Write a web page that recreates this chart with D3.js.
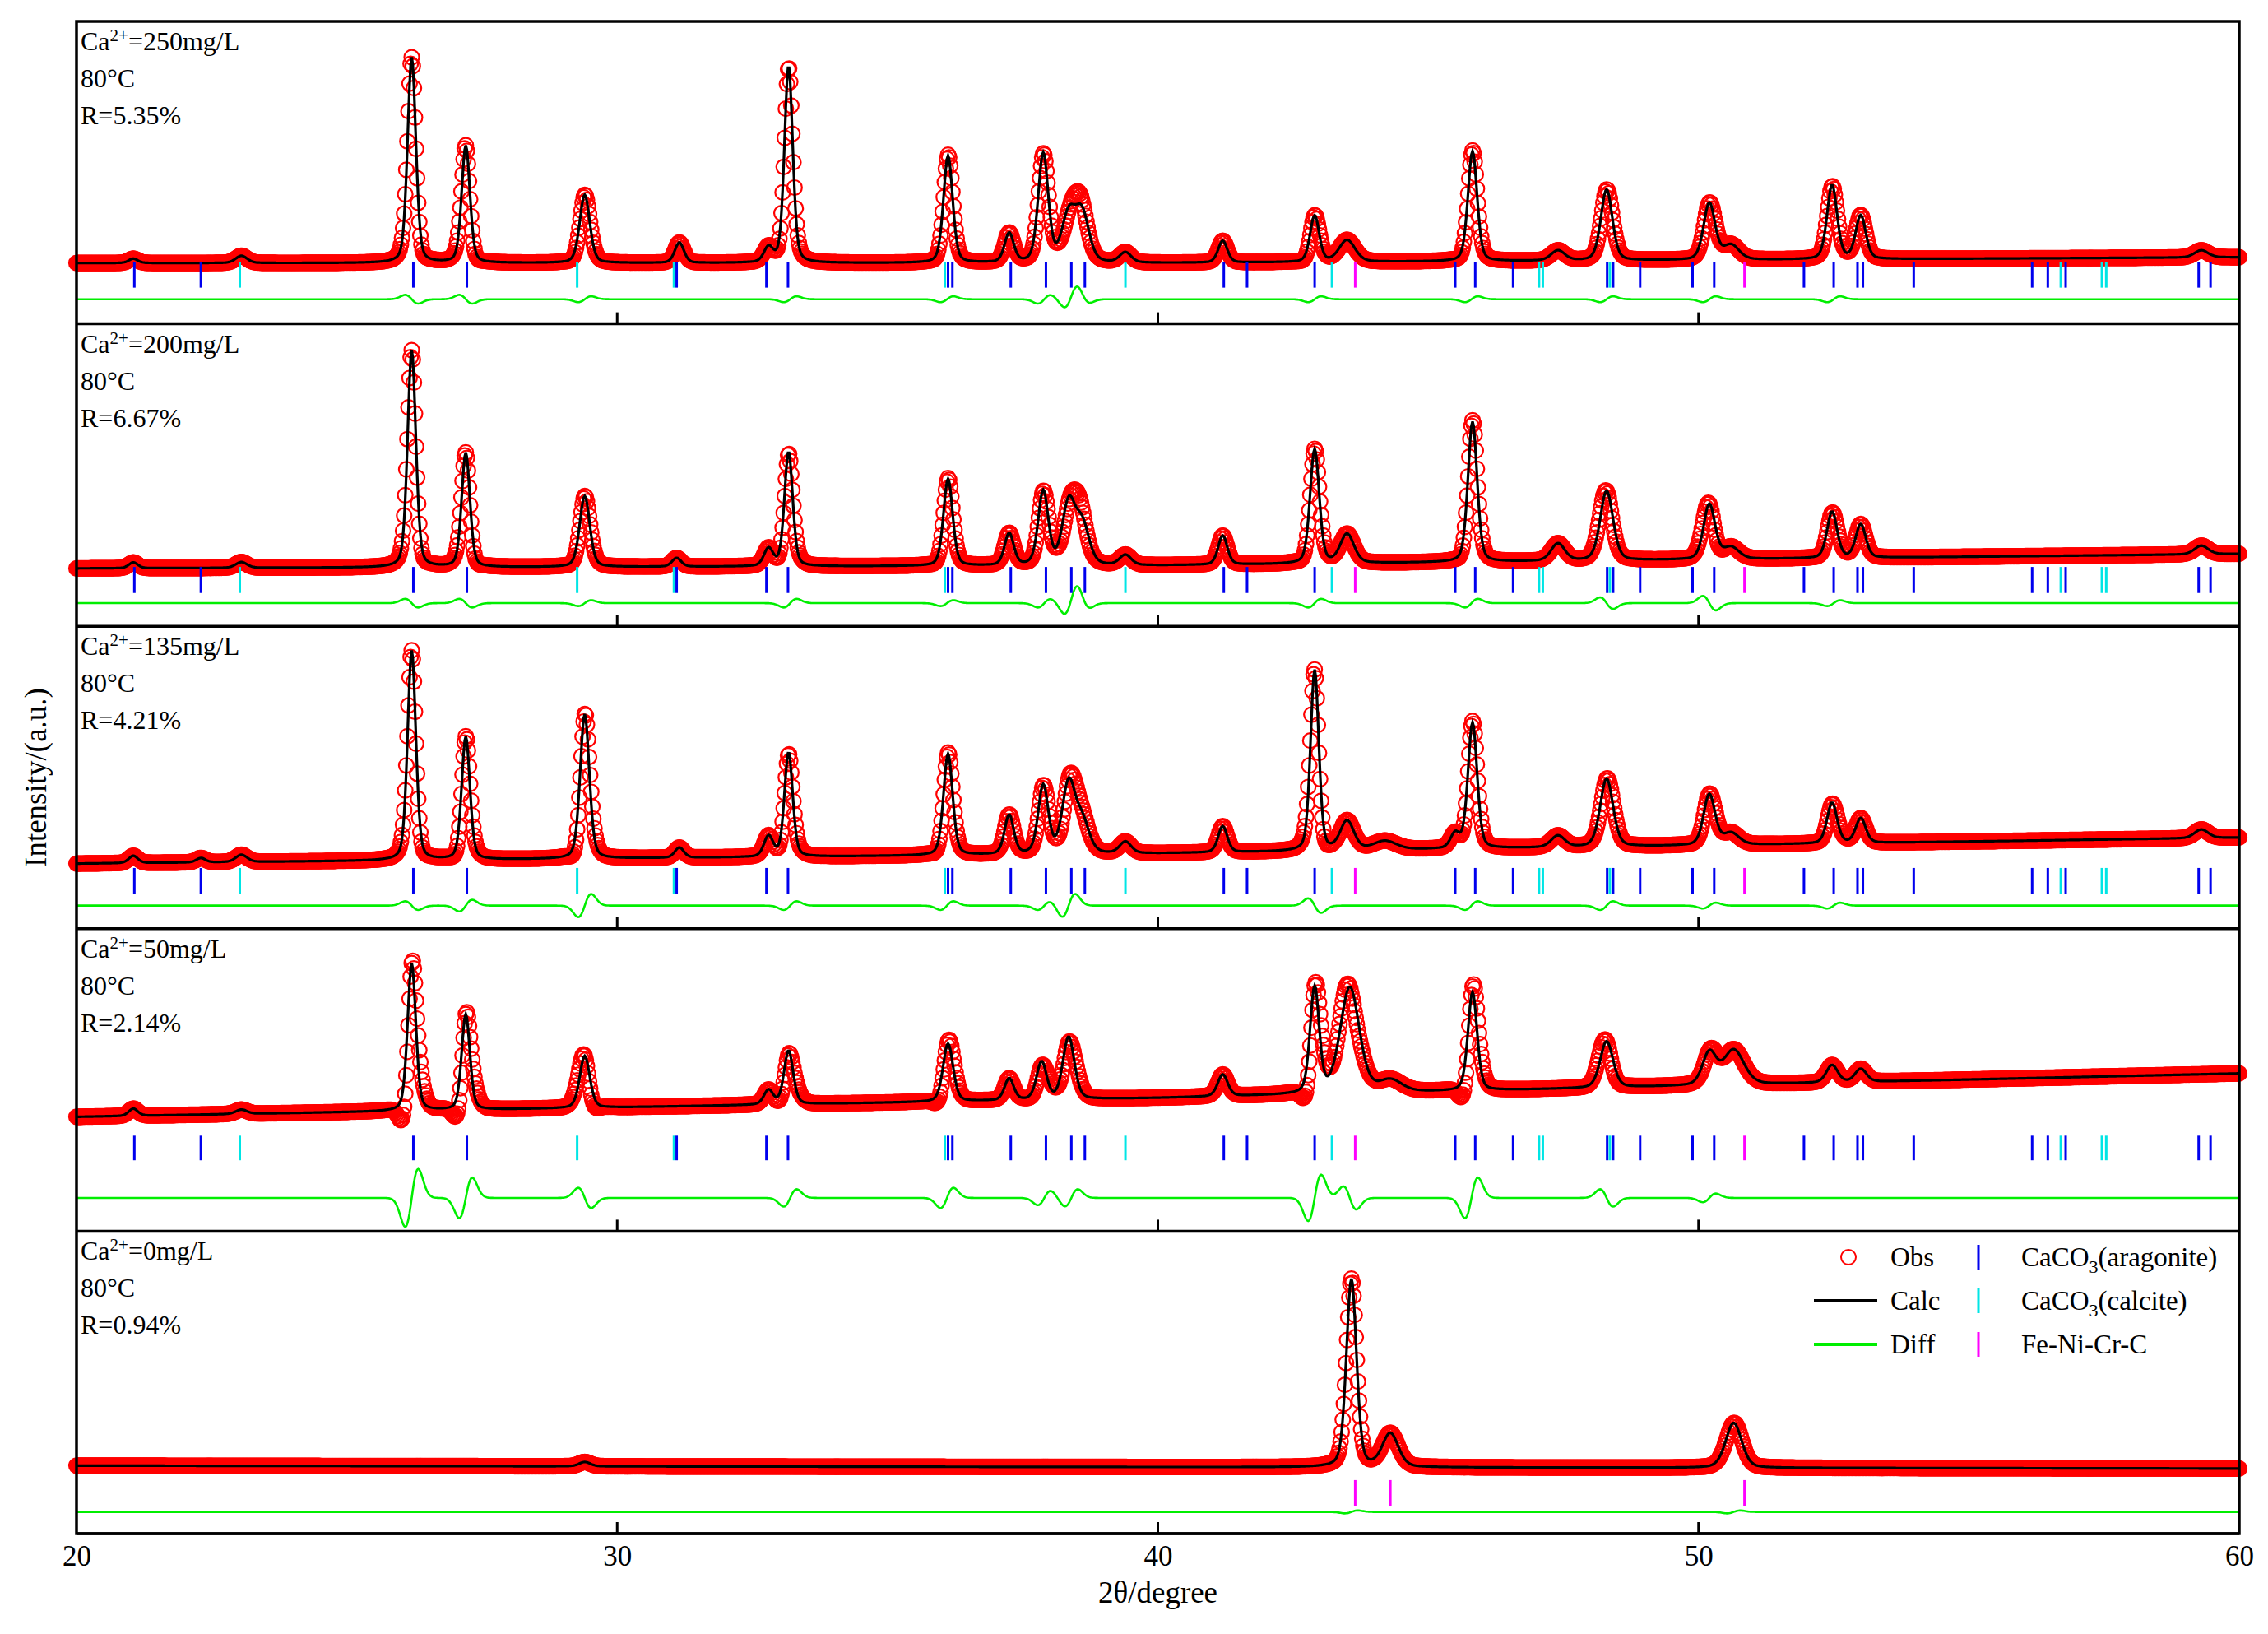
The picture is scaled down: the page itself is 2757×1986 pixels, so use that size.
<!DOCTYPE html>
<html><head><meta charset="utf-8">
<script src="https://cdn.jsdelivr.net/npm/d3@7"></script>
<style>body{margin:0;background:#fff}svg text{font-family:"Liberation Serif","DejaVu Serif",serif}</style>
</head><body><div id="c"></div>
<script>
// ---------- data ----------
const panelLabels = [
  ["Ca","2+","=250mg/L","80°C","R=5.35%"],
  ["Ca","2+","=200mg/L","80°C","R=6.67%"],
  ["Ca","2+","=135mg/L","80°C","R=4.21%"],
  ["Ca","2+","=50mg/L","80°C","R=2.14%"],
  ["Ca","2+","=0mg/L","80°C","R=0.94%"]
];
// peaks: [2θ, height, fwhm]
const peaks1 = [[21.05,3,0.2],[23.05,5,0.25],[26.2,142,0.18],[27.2,81,0.18],[29.4,47,0.22],[31.15,14,0.2],[32.8,10,0.2],[33.17,136,0.18],[36.12,74,0.2],[37.25,20,0.2],[37.88,75,0.22],[38.35,32,0.3],[38.6,33,0.3],[39.4,7,0.25],[41.2,15,0.2],[42.9,32,0.2],[43.5,15,0.35],[45.82,76,0.2],[47.4,7,0.3],[48.3,49,0.25],[50.2,39,0.25],[50.6,10,0.35],[52.47,51,0.22],[53.0,30,0.22],[59.3,5,0.3]];
const peaks2 = [[21.05,4,0.2],[23.05,4,0.25],[26.2,150,0.18],[27.2,79,0.18],[29.4,49,0.22],[31.1,6,0.2],[32.8,12,0.2],[33.17,79,0.18],[36.12,60,0.2],[37.25,22,0.2],[37.88,51,0.22],[38.35,42,0.28],[38.6,28,0.3],[39.4,7,0.25],[41.2,20,0.2],[42.9,79,0.2],[43.5,20,0.3],[45.82,97,0.2],[47.4,12,0.3],[48.3,48,0.28],[50.2,38,0.25],[50.6,8,0.35],[52.47,32,0.22],[53.0,23,0.22],[59.3,6,0.3]];
const peaks3 = [[21.05,5,0.2],[22.3,3,0.2],[23.05,5,0.25],[26.2,145,0.18],[27.2,85,0.18],[29.4,100,0.2],[31.15,7,0.2],[32.8,14,0.2],[33.17,72,0.18],[36.12,70,0.2],[37.25,27,0.2],[37.88,47,0.22],[38.35,48,0.28],[38.6,22,0.3],[39.4,8,0.25],[41.2,18,0.2],[42.9,125,0.18],[43.5,20,0.3],[44.2,6,0.5],[45.5,10,0.2],[45.82,87,0.2],[47.4,8,0.3],[48.3,47,0.28],[50.2,35,0.25],[50.6,8,0.35],[52.47,28,0.22],[53.0,17,0.22],[59.3,6,0.3]];
const peaks4 = [[21.05,5,0.2],[23.05,3,0.25],[26.2,102,0.18],[27.2,66,0.18],[29.4,36,0.22],[32.8,10,0.2],[33.17,37,0.2],[36.12,40,0.22],[37.25,15,0.2],[37.85,26,0.22],[38.35,43,0.25],[41.2,15,0.22],[42.9,73,0.2],[43.55,73,0.42],[44.3,8,0.5],[45.82,68,0.2],[48.3,32,0.28],[50.2,22,0.3],[50.65,24,0.45],[52.47,12,0.25],[53.0,9,0.25]];
const peaks5 = [[29.4,3,0.25],[43.58,130,0.22],[44.3,23,0.35],[50.65,31,0.35]];
// background knots: [2θ, level]
const bg1 = [[20,42],[40,42],[60,46]];
const bg2 = [[20,40],[40,42],[60,50]];
const bg3 = [[20,45],[40,52],[60,63]];
const bg4 = [[20,79],[40,92],[60,109]];
const bg5 = [[20,47],[60,45]];
// diff features: [2θ, amplitude]
const diff1 = [[26.2,-3],[27.2,-3],[29.4,2],[33.2,2],[36.1,2],[37.9,3],[38.4,6],[38.6,-3],[42.9,2],[45.8,2],[48.3,2],[50.2,2],[52.5,2]];
const diff2 = [[26.2,-3],[27.2,-3],[29.4,2],[33.2,3],[36.1,2],[37.9,3],[38.4,8],[38.6,-4],[42.9,3],[45.8,3],[48.3,-4],[50.2,-5],[52.5,2]];
const diff3 = [[26.2,-3],[27.2,4],[29.4,8],[33.2,3],[36.1,3],[37.9,3],[38.35,8],[42.9,-5],[45.8,3],[48.3,3],[50.2,2],[52.5,2]];
const diff4 = [[26.2,20],[27.2,14],[29.4,-7],[33.2,6],[36.1,7],[37.9,5],[38.4,6],[42.9,16],[43.55,-8],[45.8,14],[48.3,-6],[50.2,3]];
const diff5 = [[43.58,1],[50.65,1]];
// reflection positions
const aragonite = [21.07,22.3,26.23,27.22,31.1,32.76,33.16,36.12,36.2,37.28,37.93,38.4,38.65,41.22,41.65,42.9,45.5,45.87,46.57,48.31,48.42,48.92,49.89,50.29,51.95,52.5,52.94,53.04,53.98,56.17,56.46,56.79,59.25,59.47];
const calcite = [23.02,29.26,31.05,36.06,39.4,43.22,47.05,47.12,48.36,56.7,57.46,57.54];
const fenicrc = [43.65,50.85];
const fenicrc5 = [43.65,44.3,50.85];
const xTicks = [20,30,40,50,60];

// ---------- layout ----------
const W=2757,H=1986, L=93, R=2722, T=26, B=1864;
const nP=5, pH=(B-T)/nP;
const FF="Liberation Serif, DejaVu Serif, serif";
const tickRow=[[25,43],[23,41],[24,42],[49,66],[19,37]];
const diffLevel=[17,16,16,23,15];
const panels=[
 {peaks:peaks1,bg:bg1,diff:diff1,fe:fenicrc},
 {peaks:peaks2,bg:bg2,diff:diff2,fe:fenicrc},
 {peaks:peaks3,bg:bg3,diff:diff3,fe:fenicrc},
 {peaks:peaks4,bg:bg4,diff:diff4,fe:fenicrc},
 {peaks:peaks5,bg:bg5,diff:diff5,fe:fenicrc5,only:true}
];
const svg=d3.select("#c").append("svg").attr("width",W).attr("height",H).attr("font-family",FF);
const x=d3.scaleLinear().domain([20,60]).range([L,R]);
function pv(t,p,h,w){const d=(t-p)/(w/2);return h*(0.7*Math.exp(-Math.LN2*d*d)+0.3/(1+d*d));}
function bgAt(bg,t){for(let i=0;i<bg.length-1;i++){if(t<=bg[i+1][0]){const f=(t-bg[i][0])/(bg[i+1][0]-bg[i][0]);return bg[i][1]+f*(bg[i+1][1]-bg[i][1]);}}return bg[bg.length-1][1];}
function dAt(df,t){let s=0;for(const [p,a] of df){const d=(t-p)/0.12;s+=a*d*Math.exp(-d*d/2)*1.65;}return s;}
const steps=d3.range(20,60.0001,0.02);

panels.forEach((P,i)=>{
  const top=T+i*pH, bot=top+pH;
  const y=d3.scaleLinear().domain([0,209]).range([bot,top]);
  const g=svg.append("g");
  const calc=steps.map(t=>[t,bgAt(P.bg,t)+d3.sum(P.peaks,k=>pv(t,k[0],k[1],k[2]))]);
  const obs=calc.map(([t,v])=>[t,v+dAt(P.diff,t)]);
  g.append("g").selectAll("circle").data(obs).join("circle")
   .attr("cx",d=>x(d[0])).attr("cy",d=>y(d[1])).attr("r",9)
   .attr("fill","none").attr("stroke","#ff0000").attr("stroke-width",2.2);
  g.append("path").datum(calc).attr("fill","none").attr("stroke","#000").attr("stroke-width",3.2)
   .attr("d",d3.line().x(d=>x(d[0])).y(d=>y(d[1])));
  g.append("path").datum(steps.map(t=>[t,diffLevel[i]+dAt(P.diff,t)]))
   .attr("fill","none").attr("stroke","#00ee00").attr("stroke-width",2.6)
   .attr("d",d3.line().x(d=>x(d[0])).y(d=>y(d[1])));
  const marks=P.only?P.fe.map(v=>[v,"#ff00ff"]):
    aragonite.map(v=>[v,"#0000ee"]).concat(calcite.map(v=>[v,"#00e5e5"]),P.fe.map(v=>[v,"#ff00ff"]));
  g.append("g").selectAll("line").data(marks).join("line")
   .attr("x1",d=>x(d[0])).attr("x2",d=>x(d[0]))
   .attr("y1",y(tickRow[i][0])).attr("y2",y(tickRow[i][1]))
   .attr("stroke",d=>d[1]).attr("stroke-width",3);
  g.append("g").selectAll("line").data([30,40,50]).join("line")
   .attr("x1",d=>x(d)).attr("x2",d=>x(d)).attr("y1",bot).attr("y2",bot-14)
   .attr("stroke","#000").attr("stroke-width",3);
  const lb=panelLabels[i];
  const t1=g.append("text").attr("x",98).attr("y",top+35).attr("font-size",32).attr("font-family",FF);
  t1.append("tspan").text(lb[0]);
  t1.append("tspan").attr("dy",-11).attr("font-size",21).text(lb[1]);
  t1.append("tspan").attr("dy",11).text(lb[2]);
  g.append("text").attr("x",98).attr("y",top+80).attr("font-size",32).attr("font-family",FF).text(lb[3]);
  g.append("text").attr("x",98).attr("y",top+125).attr("font-size",32).attr("font-family",FF).text(lb[4]);
  svg.append("line").attr("x1",L).attr("x2",R).attr("y1",bot).attr("y2",bot).attr("stroke","#000").attr("stroke-width",3.5);
});
svg.append("rect").attr("x",L).attr("y",T).attr("width",R-L).attr("height",B-T)
  .attr("fill","none").attr("stroke","#000").attr("stroke-width",3.5);
const ax=svg.append("g").attr("transform",`translate(0,${B})`)
  .call(d3.axisBottom(x).tickValues(xTicks).tickSize(0).tickPadding(14).tickFormat(d3.format("d")));
ax.attr("font-family",FF);
ax.select(".domain").remove();
ax.selectAll("text").attr("font-size",35).attr("font-family",FF).attr("fill","#000");
svg.append("text").attr("x",(L+R)/2).attr("y",1948).attr("text-anchor","middle").attr("font-size",37).attr("font-family",FF).text("2θ/degree");
svg.append("text").attr("transform",`translate(56,${(T+B)/2}) rotate(-90)`).attr("text-anchor","middle").attr("font-size",37).attr("font-family",FF).text("Intensity/(a.u.)");
const lg=svg.append("g").attr("font-family",FF);
const rows=[1528,1581,1634];
lg.append("circle").attr("cx",2247).attr("cy",rows[0]).attr("r",9).attr("fill","none").attr("stroke","#f00").attr("stroke-width",2);
lg.append("line").attr("x1",2205).attr("x2",2282).attr("y1",rows[1]).attr("y2",rows[1]).attr("stroke","#000").attr("stroke-width",4);
lg.append("line").attr("x1",2205).attr("x2",2282).attr("y1",rows[2]).attr("y2",rows[2]).attr("stroke","#00ee00").attr("stroke-width",4);
["Obs","Calc","Diff"].forEach((s,j)=>lg.append("text").attr("x",2298).attr("y",rows[j]+11).attr("font-size",33).text(s));
["#0000ee","#00e5e5","#ff00ff"].forEach((c,j)=>lg.append("line").attr("x1",2405).attr("x2",2405).attr("y1",rows[j]-15).attr("y2",rows[j]+15).attr("stroke",c).attr("stroke-width",3));
const l1=lg.append("text").attr("x",2457).attr("y",rows[0]+11).attr("font-size",33);
l1.append("tspan").text("CaCO");l1.append("tspan").attr("dy",8).attr("font-size",22).text("3");l1.append("tspan").attr("dy",-8).text("(aragonite)");
const l2=lg.append("text").attr("x",2457).attr("y",rows[1]+11).attr("font-size",33);
l2.append("tspan").text("CaCO");l2.append("tspan").attr("dy",8).attr("font-size",22).text("3");l2.append("tspan").attr("dy",-8).text("(calcite)");
lg.append("text").attr("x",2457).attr("y",rows[2]+11).attr("font-size",33).text("Fe-Ni-Cr-C");
</script></body></html>
